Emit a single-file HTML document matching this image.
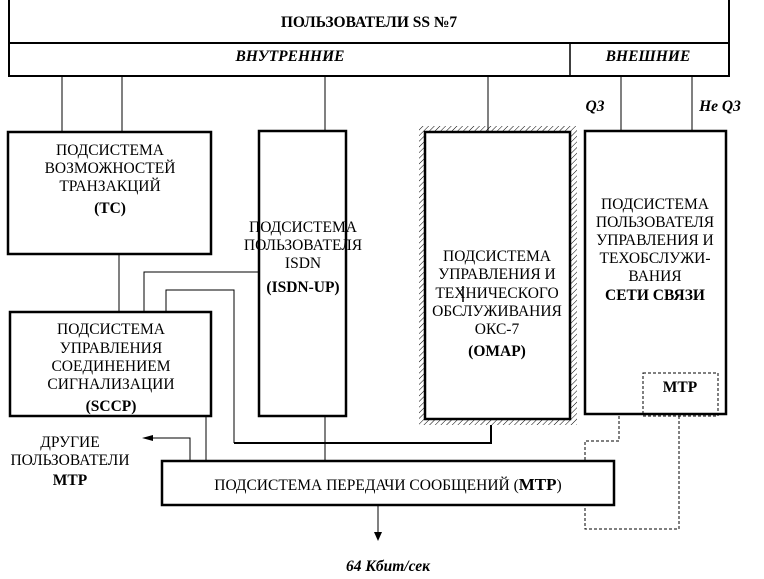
<!DOCTYPE html>
<html><head><meta charset="utf-8"><style>
html,body{margin:0;padding:0;background:#fff;width:764px;height:579px;overflow:hidden}
text{font-family:"Liberation Serif","Noto Serif CJK SC",serif;font-size:15.5px;fill:#000}
.b{font-weight:bold}
.bi{font-weight:bold;font-style:italic}
</style></head><body>
<svg width="764" height="579" xmlns="http://www.w3.org/2000/svg">
<defs>
<pattern id="h" width="4" height="4" patternUnits="userSpaceOnUse" patternTransform="rotate(45)">
<line x1="0" y1="0" x2="0" y2="4" stroke="#000" stroke-width="1"/>
</pattern>
</defs>
<g fill="none" stroke="#000">
<rect x="9" y="-2" width="720" height="45" stroke-width="2"/>
<rect x="9" y="43" width="720" height="33" stroke-width="2"/>
<line x1="570" y1="43" x2="570" y2="76" stroke-width="1.5"/>
<g stroke-width="1">
<line x1="62" y1="76" x2="62" y2="131"/>
<line x1="122" y1="76" x2="122" y2="131"/>
<line x1="325" y1="76" x2="325" y2="131"/>
<line x1="488" y1="76" x2="488" y2="131"/>
<line x1="621" y1="76" x2="621" y2="131"/>
<line x1="692" y1="76" x2="692" y2="131"/>
</g>
<rect x="8" y="132" width="203" height="122" stroke-width="2.5"/>
<rect x="10" y="312" width="201" height="104" stroke-width="2.5"/>
<rect x="259" y="131" width="87" height="285" stroke-width="2.5"/>
<rect x="419" y="126" width="158" height="299" fill="url(#h)" stroke="none"/>
<rect x="425" y="132" width="145" height="287" fill="#fff" stroke-width="2.5"/>
<rect x="585" y="131" width="141" height="283" stroke-width="2.5"/>
<rect x="643" y="373" width="75" height="43" stroke-width="1" stroke-dasharray="3,2"/>
<rect x="162" y="461" width="452" height="44" stroke-width="2.5"/>
<g stroke-width="1">
<line x1="119" y1="255" x2="119" y2="312"/>
<polyline points="144,312 144,272 259,272"/>
<polyline points="166,312 166,290 234,290 234,443"/>
<line x1="206" y1="416" x2="206" y2="461"/>
<polyline points="190,461 190,438 150,438"/>
<line x1="325" y1="416" x2="325" y2="461"/>
<line x1="378" y1="505" x2="378" y2="535"/>
</g>
<polyline points="234,443 491,443 491,425" stroke-width="2"/>
<g stroke-width="1" stroke-dasharray="3,2">
<polyline points="619,416 619,441 585,441 585,461"/>
<polyline points="679,416 679,529 585,529 585,505"/>
</g>
</g>
<polygon points="142,438 153,435 153,441" fill="#000"/>
<polygon points="378,541 374,532 382,532" fill="#000"/>
<line x1="463" y1="286" x2="463" y2="302" stroke="#000" stroke-width="1.5"/>
<text x="369" y="27" class="b" text-anchor="middle" font-size="16">ПОЛЬЗОВАТЕЛИ SS №7</text>
<text x="290" y="61" class="bi" text-anchor="middle">ВНУТРЕННИЕ</text>
<text x="648" y="61" class="bi" text-anchor="middle">ВНЕШНИЕ</text>
<text x="595" y="111" class="bi" text-anchor="middle">Q3</text>
<text x="720" y="111" class="bi" text-anchor="middle">Не Q3</text>
<g text-anchor="middle">
<text x="110" y="155">ПОДСИСТЕМА</text>
<text x="110" y="173">ВОЗМОЖНОСТЕЙ</text>
<text x="110" y="191">ТРАНЗАКЦИЙ</text>
<text x="110" y="213" class="b" font-size="17">(ТС)</text>
<text x="111" y="334">ПОДСИСТЕМА</text>
<text x="111" y="353">УПРАВЛЕНИЯ</text>
<text x="111" y="371">СОЕДИНЕНИЕМ</text>
<text x="111" y="389">СИГНАЛИЗАЦИИ</text>
<text x="111" y="411" class="b" font-size="17">(SCCP)</text>
<text x="303" y="232">ПОДСИСТЕМА</text>
<text x="303" y="250">ПОЛЬЗОВАТЕЛЯ</text>
<text x="303" y="268">ISDN</text>
<text x="303" y="292" class="b" font-size="17">(ISDN-UP)</text>
<text x="497" y="261">ПОДСИСТЕМА</text>
<text x="497" y="279">УПРАВЛЕНИЯ И</text>
<text x="497" y="298">ТЕХНИЧЕСКОГО</text>
<text x="497" y="316">ОБСЛУЖИВАНИЯ</text>
<text x="497" y="334">ОКС-7</text>
<text x="497" y="356" class="b" font-size="17">(ОМАР)</text>
<text x="655" y="209">ПОДСИСТЕМА</text>
<text x="655" y="227">ПОЛЬЗОВАТЕЛЯ</text>
<text x="655" y="245">УПРАВЛЕНИЯ И</text>
<text x="655" y="263">ТЕХОБСЛУЖИ-</text>
<text x="655" y="281">ВАНИЯ</text>
<text x="655" y="300" class="b">СЕТИ СВЯЗИ</text>
<text x="680" y="392" class="b" font-size="16">МТР</text>
<text x="70" y="447">ДРУГИЕ</text>
<text x="70" y="465">ПОЛЬЗОВАТЕЛИ</text>
<text x="70" y="485" class="b" font-size="17">МТР</text>
<text x="388" y="490">ПОДСИСТЕМА ПЕРЕДАЧИ СООБЩЕНИЙ (<tspan class="b" font-size="17">МТР</tspan>)</text>
<text x="388" y="571" class="bi" font-size="16">64 Кбит/сек</text>
</g>
</svg>
</body></html>
